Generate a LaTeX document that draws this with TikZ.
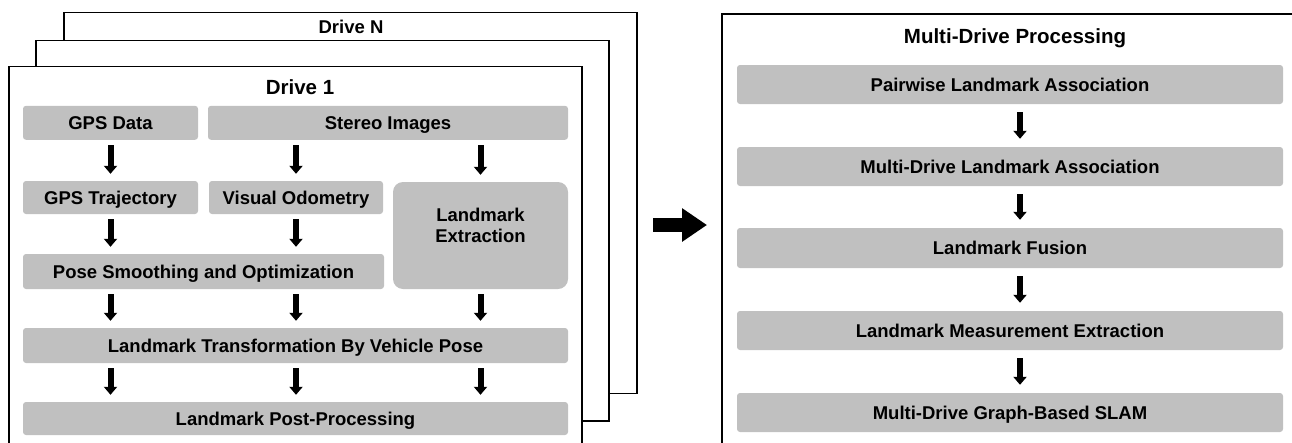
\documentclass[tikz,border=0pt]{standalone}
\usepackage{fontspec}
\setmainfont{Liberation Sans}
\usetikzlibrary{arrows.meta}
\definecolor{boxgray}{RGB}{192,192,192}
\tikzset{
  frame/.style={draw=black, line width=1.5pt, fill=white},
  box/.style={fill=boxgray, rounded corners=3pt, inner sep=0pt, align=center,
    font=\fontsize{18.5}{21}\selectfont\bfseries, text height=13.2pt, text depth=0pt},
  ttl/.style={anchor=base, inner sep=0pt, font=\fontsize{20.5}{24}\selectfont\bfseries},
  flow/.style={line width=6pt, -{Triangle[width=13pt,length=8pt]}, shorten <=5pt, shorten >=7pt},
  flowR/.style={line width=6pt, -{Triangle[width=13pt,length=8pt]}, shorten <=8pt, shorten >=8pt},
  bigarrow/.style={line width=14pt, -{Triangle[width=32pt,length=25pt]}}
}
\begin{document}
\begin{tikzpicture}[x=1pt,y=-1pt]
\clip (0,0) rectangle (1292,442);
\fill[white] (0,0) rectangle (1292,442);
% stacked drive frames
\draw[frame] (64,12.7) rectangle (637,393.5);
\node[ttl, font=\fontsize{18.5}{22}\selectfont\bfseries] (tN) at (351,33.5) {Drive N};
\draw[frame] (36,40.7) rectangle (609,421);
\draw[frame] (9,66.7) rectangle (582,460);
\node[ttl] (t1) at (300,94.3) {Drive 1};
% drive 1 boxes
\node[box, minimum width=175pt, minimum height=34pt] (gps) at (110.5,122.8) {GPS Data};
\node[box, minimum width=360pt, minimum height=34pt] (stereo) at (388,122.8) {Stereo Images};
\node[box, minimum width=175pt, minimum height=33pt] (traj) at (110.5,197.5) {GPS Trajectory};
\node[box, minimum width=174pt, minimum height=33pt] (vo) at (296,197.5) {Visual Odometry};
\node[box, rounded corners=10pt, minimum width=175pt, minimum height=107pt] (le) at (480.5,235.5) {Landmark\\Extraction};
\node[box, minimum width=361pt, minimum height=35pt] (pose) at (203.5,271.5) {Pose Smoothing and Optimization};
\node[box, minimum width=545pt, minimum height=35pt] (lt) at (295.5,345.5) {Landmark Transformation By Vehicle Pose};
\node[box, minimum width=545pt, minimum height=33pt] (lpp) at (295.5,418.5) {Landmark Post-Processing};
% drive 1 arrows
\draw[flow] (gps.south) -- (traj.north);
\draw[flow] (stereo.south -| vo.south) -- (vo.north);
\draw[flow] (stereo.south -| le.north) -- (le.north);
\draw[flow] (traj.south) -- (pose.north -| traj.south);
\draw[flow] (vo.south) -- (pose.north -| vo.south);
\draw[flow] (pose.south -| traj.south) -- (lt.north -| traj.south);
\draw[flow] (pose.south -| vo.south) -- (lt.north -| vo.south);
\draw[flow] (le.south) -- (lt.north -| le.south);
\draw[flow] (lt.south -| traj.south) -- (lpp.north -| traj.south);
\draw[flow] (lt.south -| vo.south) -- (lpp.north -| vo.south);
\draw[flow] (lt.south -| le.south) -- (lpp.north -| le.south);
% big arrow
\coordinate (ba) at (653,225);
\coordinate (bb) at (707,225);
\draw[bigarrow] (ba) -- (bb);
% multi-drive frame
\draw[frame, line width=1.7pt] (722,14) rectangle (1310,460);
\node[ttl] (tM) at (1015,43.3) {Multi-Drive Processing};
\node[box, minimum width=546pt, minimum height=39pt] (pw) at (1010,84.5) {Pairwise Landmark Association};
\node[box, minimum width=546pt, minimum height=39pt] (mdla) at (1010,166.5) {Multi-Drive Landmark Association};
\node[box, minimum width=546pt, minimum height=40pt] (lf) at (1010,248) {Landmark Fusion};
\node[box, minimum width=546pt, minimum height=39pt] (lme) at (1010,330.5) {Landmark Measurement Extraction};
\node[box, minimum width=546pt, minimum height=39pt] (slam) at (1010,412.5) {Multi-Drive Graph-Based SLAM};
\draw[flowR] ([xshift=10pt]pw.south) -- ([xshift=10pt]mdla.north);
\draw[flowR] ([xshift=10pt]mdla.south) -- ([xshift=10pt]lf.north);
\draw[flowR] ([xshift=10pt]lf.south) -- ([xshift=10pt]lme.north);
\draw[flowR] ([xshift=10pt]lme.south) -- ([xshift=10pt]slam.north);
\end{tikzpicture}
\end{document}
